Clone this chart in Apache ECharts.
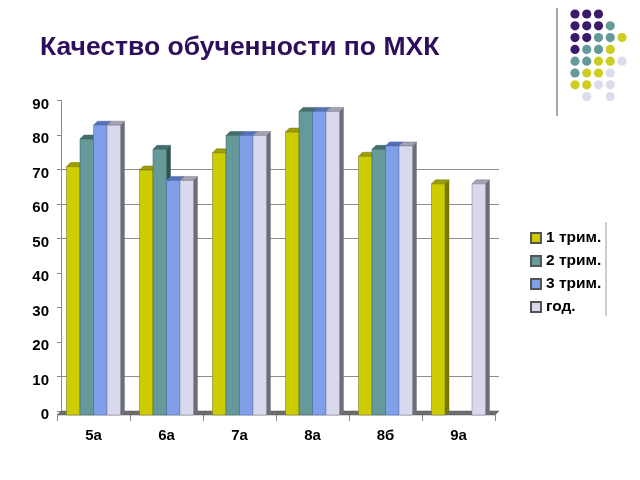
<!DOCTYPE html>
<html><head><meta charset="utf-8">
<script src="https://cdn.jsdelivr.net/npm/echarts@6/dist/echarts.min.js"></script>
<style>html,body{margin:0;padding:0;background:#fff}#c{width:640px;height:480px}</style>
</head><body><div id="c"></div>
<script>
const categories = ['5а', '6а', '7а', '8а', '8б', '9а'];
const seriesNames = ['1 трим.', '2 трим.', '3 трим.', 'год.'];
const trim1 = [72, 71, 76, 82, 75, 67];
const trim2 = [80, 77, 81, 88, 77, 0];
const trim3 = [84, 68, 81, 88, 78, 0];
const year = [84, 68, 81, 88, 78, 67];
const yTicks = [0, 10, 20, 30, 40, 50, 60, 70, 80, 90];
const titleText = 'Качество обученности по МХК';

const FONT = '"Liberation Sans", Arial, sans-serif';
const DEPTH = 4;
const GROUP = 54 / 73;
const palette = [
  {front: '#CCCC00', top: '#9f9f00', side: '#7a7a00', stroke: '#6f6f20'},
  {front: '#669999', top: '#426e6e', side: '#2f5252', stroke: '#3c5f5f'},
  {front: '#7F9FE8', top: '#5470b8', side: '#47578c', stroke: '#4e64a0'},
  {front: '#D9D9EE', top: '#a2a2b2', side: '#6d6d78', stroke: '#7a7a8a'}
];
const values = [trim1, trim2, trim3, year];

function makeRender(k) {
  const c = palette[k];
  return function (params, api) {
    const cat = api.value(0), v = api.value(1);
    if (!v) return null;
    const top = api.coord([cat, v]);
    const base = api.coord([cat, 0]);
    const band = api.size([1, 0])[0];
    const bw = band * GROUP / 4;
    const x0 = top[0] - 2 * bw + k * bw;
    const x1 = x0 + bw;
    const d = DEPTH;
    return {
      type: 'group',
      children: [
        {type: 'polygon', shape: {points: [[x1, top[1]], [x1 + d, top[1] - d], [x1 + d, base[1] - d], [x1, base[1]]]},
          style: {fill: c.side, stroke: c.stroke, lineWidth: 0.5}},
        {type: 'polygon', shape: {points: [[x0, top[1]], [x0 + d, top[1] - d], [x1 + d, top[1] - d], [x1, top[1]]]},
          style: {fill: c.top, stroke: c.stroke, lineWidth: 0.5}},
        {type: 'rect', shape: {x: x0, y: top[1], width: bw, height: base[1] - top[1]},
          style: {fill: c.front, stroke: c.stroke, lineWidth: 0.5}}
      ]
    };
  };
}

function floorRender(params, api) {
  const cat = api.value(0);
  const p = api.coord([cat, 0]);
  const band = api.size([1, 0])[0];
  const xl = p[0] - band / 2, xr = p[0] + band / 2, d = DEPTH;
  return {
    type: 'polygon',
    shape: {points: [[xl, p[1]], [xr, p[1]], [xr + d, p[1] - d], [xl + d, p[1] - d]]},
    style: {fill: '#6e6e6e', stroke: '#555', lineWidth: 0.5}
  };
}

const splitColors = yTicks.map(t => ([10, 50, 60, 70].indexOf(t) >= 0 ? '#8c8c8c' : 'rgba(0,0,0,0)'));

const dotColors = {P: '#3b1a6c', T: '#669999', Y: '#cccc22', L: '#dcdcec'};
const dotRows = ['PPP..', 'PPPT.', 'PPTTY', 'PTTY.', 'TTYYL', 'TYYL.', 'YYLL.', '.L.L.'];
const graphics = [{type: 'line', shape: {x1: 557, y1: 8, x2: 557, y2: 116}, style: {stroke: '#8a8a8a', lineWidth: 1.5}},
  {type: 'line', shape: {x1: 606, y1: 222, x2: 606, y2: 316}, style: {stroke: '#9a9a9a', lineWidth: 1}}];
dotRows.forEach((row, r) => {
  row.split('').forEach((ch, col) => {
    if (ch === '.') return;
    graphics.push({type: 'circle', shape: {cx: 575 + col * 11.75, cy: 14 + r * 11.8, r: 4.6}, style: {fill: dotColors[ch]}});
  });
});

const series = [{
  type: 'custom', name: 'floor', xAxisIndex: 0, yAxisIndex: 0, renderItem: floorRender,
  data: categories.map((c, i) => [i, 0]), encode: {x: 0, y: 1}, silent: true, z: 1
}];
seriesNames.forEach((n, k) => {
  series.push({
    type: 'custom', name: n, xAxisIndex: 0, yAxisIndex: 0, renderItem: makeRender(k),
    itemStyle: {color: palette[k].front, borderColor: '#555', borderWidth: 0.5},
    data: values[k].map((v, i) => [i, v]), encode: {x: 0, y: 1}, z: 2
  });
});

const chart = echarts.init(document.getElementById('c'), null, {renderer: 'canvas'});
chart.setOption({
  animation: false,
  backgroundColor: '#fff',
  title: {text: titleText, left: 35, top: 29,
    textStyle: {fontFamily: FONT, fontSize: 26.5, fontWeight: 'bold', color: '#2c0e5c'}},
  legend: {data: seriesNames, orient: 'vertical', left: 525, top: 225, icon: 'rect',
    itemWidth: 10, itemHeight: 10, itemGap: 7,
    textStyle: {fontFamily: FONT, fontSize: 15.5, fontWeight: 'bold', color: '#000', lineHeight: 16}},
  grid: [
    {left: 57, right: 145, top: 104.5, bottom: 65},
    {left: 61, right: 141, top: 100.5, bottom: 69}
  ],
  xAxis: [
    {type: 'category', gridIndex: 0, data: categories, axisLine: {show: false},
      axisTick: {show: true, length: 6, lineStyle: {color: '#888'}},
      axisLabel: {margin: 13, fontFamily: FONT, fontSize: 15, fontWeight: 'bold', color: '#000'}},
    {type: 'category', gridIndex: 1, data: categories, show: false}
  ],
  yAxis: [
    {type: 'value', gridIndex: 0, min: 0, max: 90, interval: 10, axisLine: {show: false}, axisTick: {show: false},
      splitLine: {show: false},
      axisLabel: {margin: 8, fontFamily: FONT, fontSize: 15, fontWeight: 'bold', color: '#000'}},
    {type: 'value', gridIndex: 1, min: 0, max: 90, interval: 10,
      axisLine: {show: true, lineStyle: {color: '#8a8a8a'}},
      axisTick: {show: true, length: 4, lineStyle: {color: '#8a8a8a'}},
      axisLabel: {show: false},
      splitLine: {show: true, lineStyle: {color: splitColors, width: 1}}}
  ],
  graphic: graphics,
  series: series
});
</script></body></html>
